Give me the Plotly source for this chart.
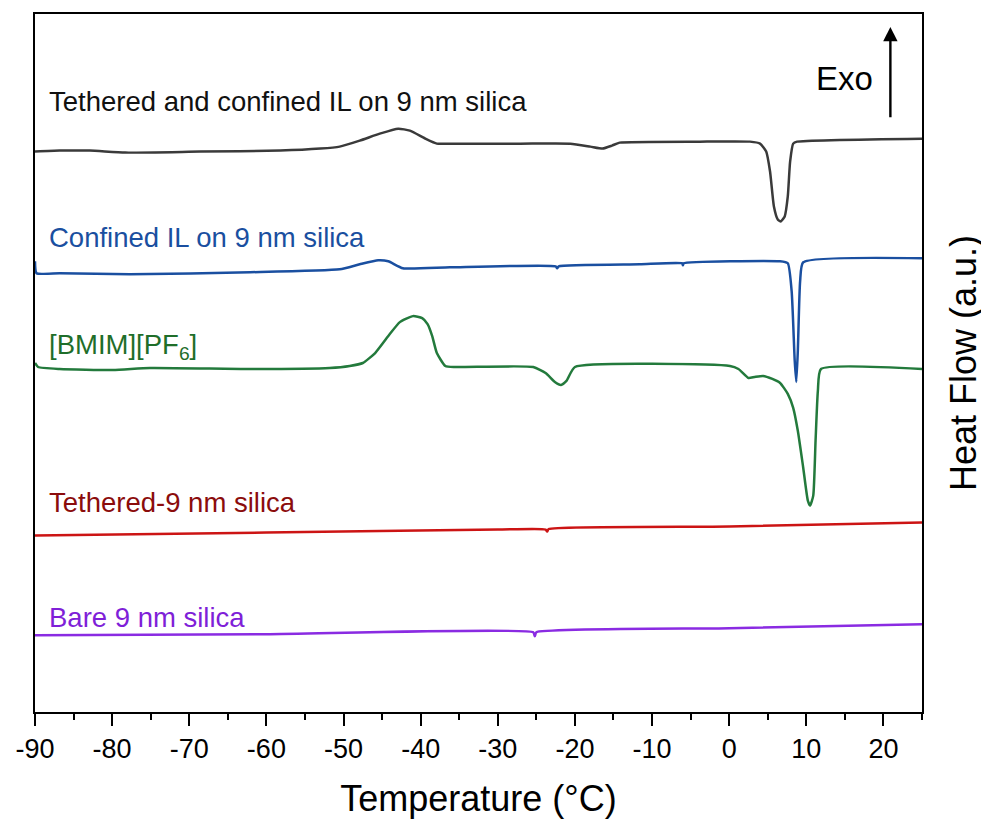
import plotly.graph_objects as go

# ---- data (temperature in °C, heat flow in arbitrary offset units) ----
t_tc = [-90, -86.8, -82.9, -78.3, -68.6, -58.2, -53.0, -50.5, -47.9, -45.3, -42.9, -41.4, -39.4, -37.9,
        -36.2, -27.1, -20.6, -18.0, -16.4, -15.2, -14.2, -3.8, 2.7, 4.0, 4.8, 5.3, 5.8, 6.3, 6.7, 7.2,
        7.6, 7.9, 8.3, 8.8, 25]
hf_tc = [562, 563, 563, 561, 562, 563, 565, 567, 573, 580, 585, 583, 575, 570,
         570, 570, 570, 567, 565, 568, 571, 572, 572, 570, 562, 542, 507, 494, 492, 497,
         517, 552, 570, 572, 575]

t_conf = [-90, -89.8, -86.8, -77.7, -62.1, -50.5, -47.9, -45.5, -44.2, -42.3, -36.2, -22.5, -22.3, -22.1,
          -11.6, -6.1, -6.0, -5.9, 6.6, 7.6, 8.1, 8.5, 8.7, 8.9, 9.2, 9.6, 25]
hf_conf = [452, 440, 440, 439, 441, 444, 449, 453, 452, 445, 446, 447, 445, 447,
           449, 450, 448, 450, 452, 450, 422, 352, 331, 362, 432, 451, 455]

t_bmim = [-90, -89.6, -86.8, -79.9, -75.1, -62.1, -51.8, -49.2, -47.5, -45.9, -44.0, -42.7, -41.0, -39.8,
          -39.1, -38.5, -37.9, -36.8, -35.5, -25.4, -23.8, -22.6, -21.8, -21.1, -20.0, 0.1, 1.2, 2.5,
          3.3, 4.4, 5.6, 6.6, 7.6, 8.3, 8.9, 9.6, 10.2, 10.5, 10.9, 11.2, 11.5, 11.9, 25]
hf_bmim = [350, 346, 344, 343, 345, 344, 345, 347, 350, 360, 379, 391, 397, 395,
           389, 377, 360, 347, 346, 346, 340, 331, 328, 332, 346, 347, 344, 335,
           336, 337, 334, 330, 319, 305, 282, 245, 212, 207, 217, 272, 322, 344, 344]

t_teth = [-90, -60, -30, -23.8, -23.6, -23.4, 0, 25]
hf_teth = [177, 180, 183, 183, 181, 183.5, 186, 190]

t_bare = [-90, -60, -25.4, -25.2, -25.0, 0, 25]
hf_bare = [77, 78, 80, 76, 80, 84, 88]

labels = ["Tethered and confined IL on 9 nm silica", "Confined IL on 9 nm silica",
          "[BMIM][PF<sub>6</sub>]", "Tethered-9 nm silica", "Bare 9 nm silica"]
label_y = [612, 476, 367, 210, 95]
line_colors = ["#3a3a3a", "#1a4fa0", "#237a3c", "#cc1414", "#8a2be2"]
text_colors = ["#111111", "#1a4fa0", "#1f6e2a", "#8b0c0c", "#7f1fd8"]

x_ticks = [-90, -80, -70, -60, -50, -40, -30, -20, -10, 0, 10, 20]
x_ticktext = [str(v) for v in x_ticks]  # plain hyphen minus as in the reference

FONT = "Arial, Liberation Sans, sans-serif"

fig = go.Figure()
series = [(t_tc, hf_tc), (t_conf, hf_conf), (t_bmim, hf_bmim), (t_teth, hf_teth), (t_bare, hf_bare)]
for (tx, hy), col, name in zip(series, line_colors, labels):
    fig.add_trace(go.Scatter(x=tx, y=hy, mode="lines", name=name,
                             line=dict(color=col, width=2.5, shape="spline", smoothing=0.5),
                             showlegend=False, hoverinfo="skip"))

for txt, yy, col in zip(labels, label_y, text_colors):
    fig.add_annotation(x=-88.4, y=yy, xref="x", yref="y", text=txt, showarrow=False,
                       xanchor="left", yanchor="middle", font=dict(family=FONT, size=27.5, color=col))

# Exo arrow
fig.add_annotation(x=20.9, y=687, ax=20.9, ay=595, xref="x", yref="y", axref="x", ayref="y",
                   text="", showarrow=True, arrowhead=2, arrowsize=1.2, arrowwidth=2.4,
                   arrowcolor="#000000")
fig.add_annotation(x=14.9, y=635, xref="x", yref="y", text="Exo", showarrow=False,
                   xanchor="center", yanchor="middle", font=dict(family=FONT, size=33, color="#000000"))

fig.update_layout(
    width=989, height=819,
    margin=dict(l=27, r=75, t=4, b=115),
    paper_bgcolor="white", plot_bgcolor="white",
    font=dict(family=FONT, color="#000000"),
    xaxis=dict(range=[-90, 25], tickvals=x_ticks, ticktext=x_ticktext, ticks="outside", ticklen=12,
               tickwidth=2, tickcolor="#000", showline=True, linecolor="#000", linewidth=2, mirror=True,
               showgrid=False, zeroline=False, tickfont=dict(size=27, family=FONT),
               minor=dict(ticks="outside", ticklen=6, tickwidth=2, tickcolor="#000", dtick=5, showgrid=False),
               title=dict(text="Temperature (°C)", font=dict(size=36, family=FONT), standoff=22)),
    yaxis=dict(range=[0, 700], side="right", showticklabels=False, ticks="", showline=True,
               linecolor="#000", linewidth=2, mirror=True, showgrid=False, zeroline=False,
               title=dict(text="Heat Flow (a.u.)", font=dict(size=36, family=FONT), standoff=28)),
)

fig.write_html("out.html")
